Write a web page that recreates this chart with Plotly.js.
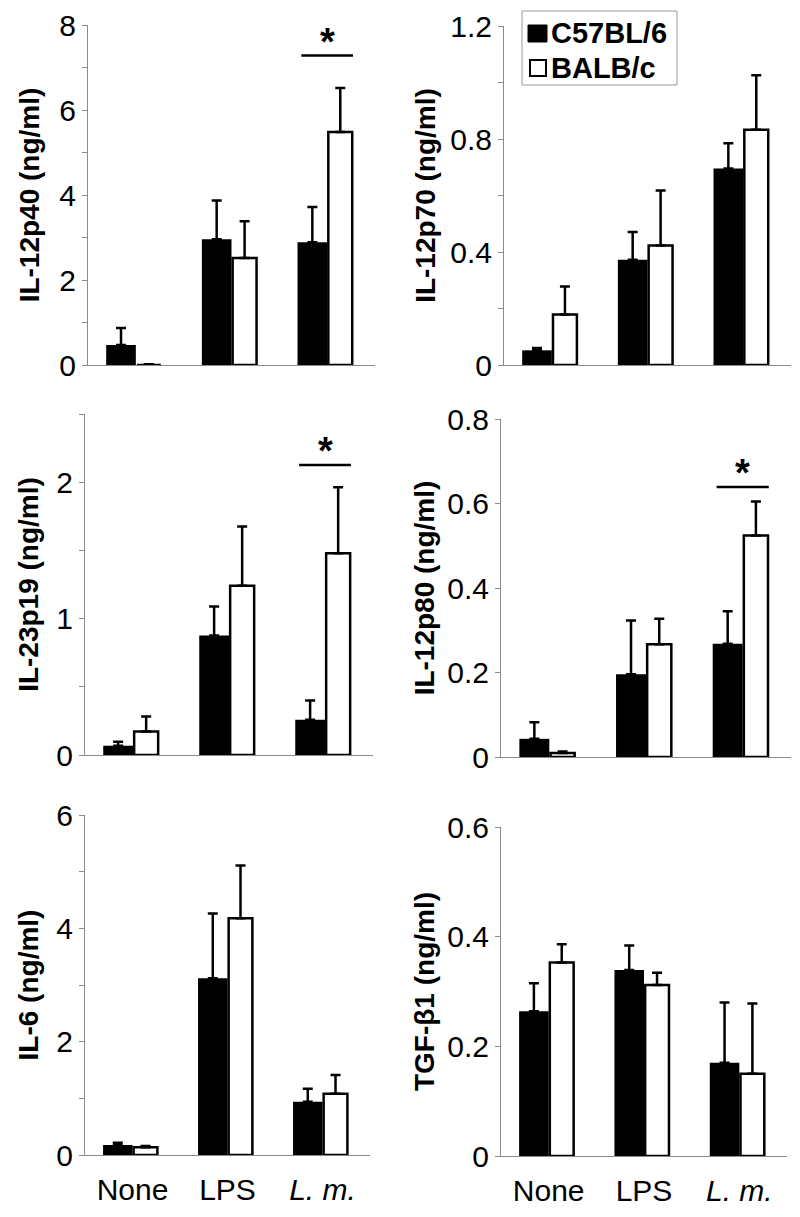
<!DOCTYPE html>
<html>
<head>
<meta charset="utf-8">
<script src="https://cdn.plot.ly/plotly-3.0.1.min.js"></script>
<style>html,body{margin:0;padding:0;background:#fff;}#chart{width:800px;height:1217px;}</style>
</head>
<body>
<div id="chart"></div>
<script>
// ---- data ----
var categories = ['None', 'LPS', 'L. m.'];
var tickText = ['None', 'LPS', '<i>L. m.</i>'];
var seriesNames = ['C57BL/6', 'BALB/c'];
var panelTitles = ['IL-12p40 (ng/ml)', 'IL-12p70 (ng/ml)', 'IL-23p19 (ng/ml)', 'IL-12p80 (ng/ml)', 'IL-6 (ng/ml)', 'TGF-\u03b21 (ng/ml)'];

var il12p40_c57 = [0.47, 2.96, 2.89];
var il12p40_c57Err = [0.40, 0.91, 0.83];
var il12p40_balb = [0.0, 2.52, 5.48];
var il12p40_balbErr = [0.02, 0.86, 1.04];

var il12p70_c57 = [0.052, 0.373, 0.696];
var il12p70_c57Err = [0.008, 0.098, 0.089];
var il12p70_balb = [0.179, 0.423, 0.833];
var il12p70_balbErr = [0.099, 0.195, 0.193];

var il23p19_c57 = [0.068, 0.876, 0.259];
var il23p19_c57Err = [0.030, 0.213, 0.141];
var il23p19_balb = [0.173, 1.24, 1.48];
var il23p19_balbErr = [0.110, 0.435, 0.483];

var il12p80_c57 = [0.043, 0.196, 0.268];
var il12p80_c57Err = [0.039, 0.127, 0.077];
var il12p80_balb = [0.0095, 0.267, 0.524];
var il12p80_balbErr = [0.0035, 0.060, 0.081];

var il6_c57 = [0.177, 3.12, 0.94];
var il6_c57Err = [0.041, 1.14, 0.23];
var il6_balb = [0.135, 4.18, 1.08];
var il6_balbErr = [0.024, 0.93, 0.33];

var tgfb1_c57 = [0.264, 0.339, 0.170];
var tgfb1_c57Err = [0.051, 0.045, 0.110];
var tgfb1_balb = [0.353, 0.312, 0.150];
var tgfb1_balbErr = [0.033, 0.022, 0.128];

// significance markers: panel index and bar height
var sigPanels = [0, 2, 3];
var sigCategory = 'L. m.';
var sigHeights = [7.28, 2.127, 0.639];

var yRanges = [[0, 8], [0, 1.2], [0, 2.5], [0, 0.8], [0, 6], [0, 0.6]];
var yDticks = [2, 0.4, 1, 0.2, 2, 0.2];
var yMinorDticks = [1, 0.2, 0.5, null, 1, null];

// ---- layout geometry (pixels) ----
var W = 800, H = 1217;
var FONT = 'Liberation Sans, Arial, Helvetica, sans-serif';
var TICK = 30;
var panels = [
  {c57: il12p40_c57, c57e: il12p40_c57Err, balb: il12p40_balb, balbe: il12p40_balbErr, xpx: [88, 375], ypx: [25, 365], standoff: 11},
  {c57: il12p70_c57, c57e: il12p70_c57Err, balb: il12p70_balb, balbe: il12p70_balbErr, xpx: [504, 791], ypx: [26, 365], standoff: 6},
  {c57: il23p19_c57, c57e: il23p19_c57Err, balb: il23p19_balb, balbe: il23p19_balbErr, xpx: [85, 373], ypx: [414, 755], standoff: 9},
  {c57: il12p80_c57, c57e: il12p80_c57Err, balb: il12p80_balb, balbe: il12p80_balbErr, xpx: [501, 791], ypx: [419, 757], standoff: 4},
  {c57: il6_c57, c57e: il6_c57Err, balb: il6_balb, balbe: il6_balbErr, xpx: [85, 370], ypx: [815, 1155], standoff: 9},
  {c57: tgfb1_c57, c57e: tgfb1_c57Err, balb: tgfb1_balb, balbe: tgfb1_balbErr, xpx: [501, 787], ypx: [827, 1156], standoff: 4}
];

var traces = [];
var layout = {
  width: W, height: H,
  margin: {l: 0, r: 0, t: 0, b: 0},
  paper_bgcolor: '#fff', plot_bgcolor: 'rgba(0,0,0,0)',
  showlegend: false,
  font: {family: FONT, color: '#000', size: TICK},
  shapes: [], annotations: []
};

var AXC = '#8a8a8a';
var blackW = 0.31, whiteW = 0.25;

panels.forEach(function (p, i) {
  var n = i + 1;
  var xa = 'x' + (n === 1 ? '' : n), ya = 'y' + (n === 1 ? '' : n);
  traces.push({
    type: 'bar', name: seriesNames[0], x: categories, y: p.c57,
    xaxis: xa, yaxis: ya, width: blackW, offset: -blackW,
    marker: {color: '#000', line: {color: '#000', width: 0}},
    error_y: {type: 'data', symmetric: false, array: p.c57e, arrayminus: p.c57.map(function () { return 0; }), color: '#000', thickness: 2.5, width: 5},
    hoverinfo: 'skip'
  });
  traces.push({
    type: 'bar', name: seriesNames[1], x: categories, y: p.balb,
    xaxis: xa, yaxis: ya, width: whiteW, offset: 0.012,
    marker: {color: '#fff', line: {color: '#000', width: 2.5}},
    error_y: {type: 'data', symmetric: false, array: p.balbe, arrayminus: p.balb.map(function () { return 0; }), color: '#000', thickness: 2.5, width: 5},
    hoverinfo: 'skip'
  });
  var bottomRow = (i >= 4);
  layout['xaxis' + (n === 1 ? '' : n)] = {
    domain: [p.xpx[0] / W, p.xpx[1] / W], anchor: ya,
    type: 'category', range: [-0.5, 2.5], fixedrange: true,
    showline: true, linecolor: AXC, linewidth: 1, showgrid: false, zeroline: false,
    ticks: '', showticklabels: bottomRow, ticklabelstandoff: 8,
    tickvals: categories, ticktext: tickText, tickfont: {size: TICK, family: FONT, color: '#000'},
    automargin: false
  };
  var yax = {
    domain: [1 - p.ypx[1] / H, 1 - p.ypx[0] / H], anchor: xa,
    range: yRanges[i], dtick: yDticks[i], tick0: 0, fixedrange: true,
    showline: true, linecolor: AXC, linewidth: 1, showgrid: false, zeroline: false,
    ticks: 'outside', ticklen: 5, tickcolor: AXC, tickwidth: 1,
    tickfont: {size: TICK, family: FONT, color: '#000'},
    title: {text: panelTitles[i], font: {size: 28, family: FONT, weight: 'bold', color: '#000'}, standoff: p.standoff},
    automargin: false
  };
  if (yMinorDticks[i]) {
    yax.minor = {dtick: yMinorDticks[i], tick0: 0, ticks: 'outside', ticklen: 5, tickcolor: AXC, tickwidth: 1, showgrid: false};
  }
  layout['yaxis' + (n === 1 ? '' : n)] = yax;
});

// significance bars
sigPanels.forEach(function (pi, k) {
  var n = pi + 1;
  var xa = 'x' + (n === 1 ? '' : n), ya = 'y' + (n === 1 ? '' : n);
  var ci = categories.indexOf(sigCategory);
  layout.shapes.push({
    type: 'line', xref: xa, yref: ya,
    x0: ci - 0.27, x1: ci + 0.27, y0: sigHeights[k], y1: sigHeights[k],
    line: {color: '#000', width: 2.5}
  });
  layout.annotations.push({
    xref: xa, yref: ya, x: ci, y: sigHeights[k], text: '*', showarrow: false,
    yanchor: 'bottom', yshift: -9,
    font: {size: 38, family: FONT, weight: 'bold', color: '#000'}
  });
});

// legend box (top-right panel)
function px(x) { return x / W; }
function py(y) { return 1 - y / H; }
layout.shapes.push({type: 'rect', xref: 'paper', yref: 'paper', x0: px(522), x1: px(677), y0: py(85), y1: py(11), line: {color: '#999', width: 1}, fillcolor: '#fff', layer: 'below'});
layout.shapes.push({type: 'rect', xref: 'paper', yref: 'paper', x0: px(528), x1: px(547), y0: py(42), y1: py(25), line: {color: '#000', width: 1}, fillcolor: '#000'});
layout.shapes.push({type: 'rect', xref: 'paper', yref: 'paper', x0: px(530), x1: px(546), y0: py(76), y1: py(60), line: {color: '#000', width: 2}, fillcolor: '#fff'});
layout.annotations.push({xref: 'paper', yref: 'paper', x: px(549), y: py(33.5), xanchor: 'left', yanchor: 'middle', text: seriesNames[0], showarrow: false, font: {size: 29, family: FONT, weight: 'bold', color: '#000'}});
layout.annotations.push({xref: 'paper', yref: 'paper', x: px(549), y: py(68.5), xanchor: 'left', yanchor: 'middle', text: seriesNames[1], showarrow: false, font: {size: 29, family: FONT, weight: 'bold', color: '#000'}});

Plotly.newPlot('chart', traces, layout, {staticPlot: true, displayModeBar: false});
</script>
</body>
</html>
